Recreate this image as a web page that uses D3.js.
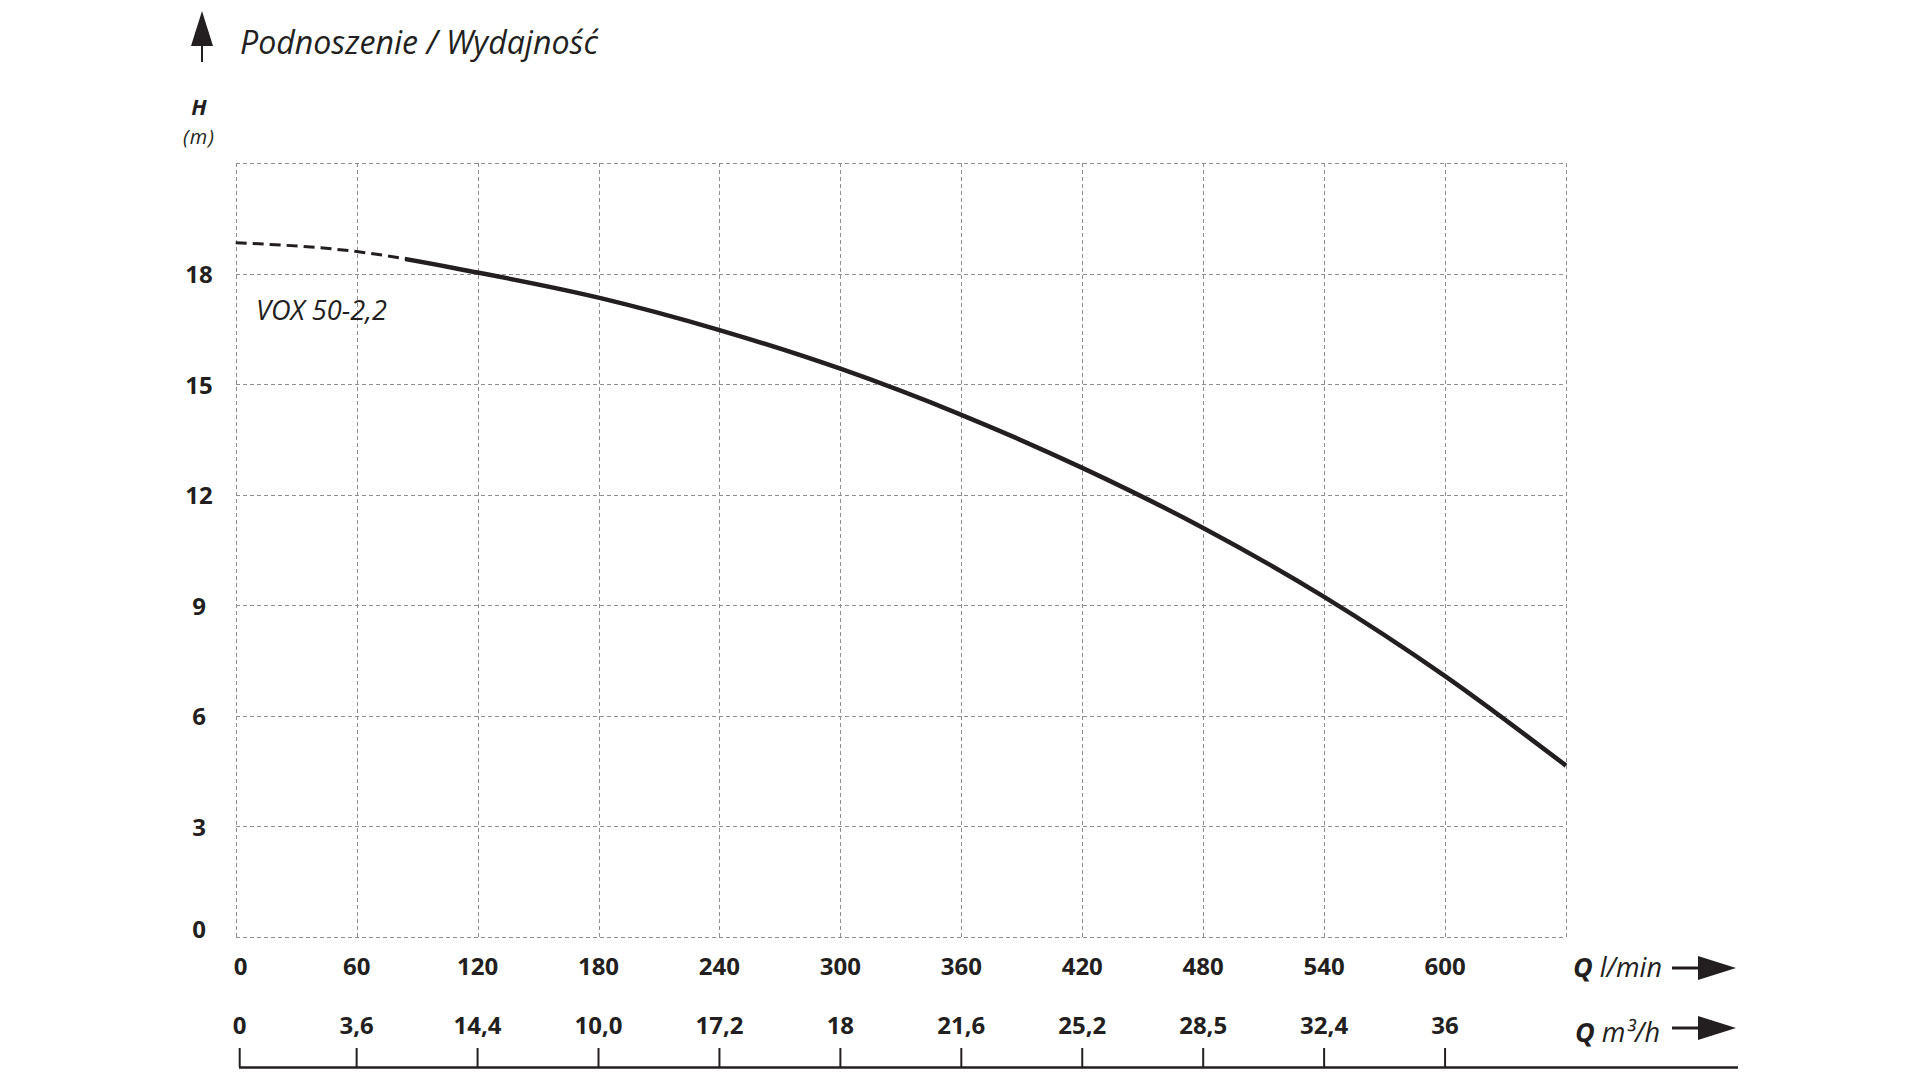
<!DOCTYPE html>
<html><head><meta charset="utf-8">
<script src="https://cdn.jsdelivr.net/npm/d3@7"></script>
<style>body{margin:0;background:#fff}svg{display:block}</style>
</head><body>
<svg id="c" width="1920" height="1080"></svg>
<script>
// ---- data ----
const titleText = "Podnoszenie / Wydajność";
const seriesName = "VOX 50-2,2";
const flowLmin = [0, 60, 120, 180, 240, 300, 360, 420, 480, 540, 600, 660];
const headM    = [18.84, 18.6, 18.03, 17.35, 16.47, 15.42, 14.17, 12.73, 11.1, 9.23, 7.08, 4.65];
const dashedUntilLmin = 84;
const xGridValues = [0, 60, 120, 180, 240, 300, 360, 420, 480, 540, 600, 660];
const xTickValues = [0, 60, 120, 180, 240, 300, 360, 420, 480, 540, 600];
const m3hTickLabels = ["0", "3,6", "14,4", "10,0", "17,2", "18", "21,6", "25,2", "28,5", "32,4", "36"];
const yGridValues = [0, 3, 6, 9, 12, 15, 18, 21];
const yTickValues = [0, 3, 6, 9, 12, 15, 18];

// ---- layout ----
const FONT = "'Open Sans', 'Noto Sans', sans-serif";
const INK = "#231f20";
const svg = d3.select("#c");
const x = d3.scaleLinear().domain([0, 660]).range([235.7, 1566]);
const y = d3.scaleLinear().domain([0, 21]).range([937, 163.1]);

function fit(sel, w) {
  const n = sel.node();
  const fs = parseFloat(sel.attr("font-size"));
  const L = n.getComputedTextLength();
  sel.attr("font-size", (fs * w / L).toFixed(2));
}

// grid
const grid = svg.append("g").attr("stroke", "#8f8f8f").attr("stroke-width", 1)
  .attr("stroke-dasharray", "4,3").attr("fill", "none").attr("shape-rendering", "crispEdges");
grid.selectAll("line.v").data(xGridValues).join("line").attr("class", "v")
  .attr("x1", d => Math.round(x(d)) + 0.5).attr("x2", d => Math.round(x(d)) + 0.5)
  .attr("y1", y(21)).attr("y2", y(0));
grid.selectAll("line.h").data(yGridValues).join("line").attr("class", "h")
  .attr("y1", d => Math.round(y(d)) + 0.5).attr("y2", d => Math.round(y(d)) + 0.5)
  .attr("x1", x(0)).attr("x2", x(660));

// y tick labels
svg.append("g").selectAll("text").data(yTickValues).join("text")
  .attr("x", 199).attr("y", d => y(d) + (d === 0 ? -9 : 0))
  .attr("text-anchor", "middle").attr("dominant-baseline", "central")
  .attr("font-family", FONT).attr("font-weight", 700).attr("font-size", 24)
  .attr("fill", INK).text(d => d);

// H (m)
svg.append("text").attr("x", 199).attr("y", 115).attr("text-anchor", "middle")
  .attr("font-family", FONT).attr("font-weight", 700).attr("font-style", "italic")
  .attr("font-size", 22).attr("fill", INK).text("H");
svg.append("text").attr("x", 199).attr("y", 144).attr("text-anchor", "middle")
  .attr("font-family", FONT).attr("font-style", "italic")
  .attr("font-size", 20).attr("letter-spacing", 1).attr("fill", INK).text("(m)");

// title + arrow
const t = svg.append("text").attr("x", 240).attr("y", 54)
  .attr("font-family", FONT).attr("font-style", "italic").attr("font-size", 31)
  .attr("fill", INK).text(titleText);
fit(t, 358);
svg.append("line").attr("x1", 202).attr("x2", 202).attr("y1", 36).attr("y2", 62)
  .attr("stroke", INK).attr("stroke-width", 2);
svg.append("path").attr("d", "M202,11L213,46L191,46Z").attr("fill", INK);

// x tick labels row 1 (l/min)
svg.append("g").selectAll("text").data(xTickValues).join("text")
  .attr("x", d => x(d) + (d === 0 ? 5 : 0)).attr("y", 975).attr("text-anchor", "middle")
  .attr("font-family", FONT).attr("font-weight", 700).attr("font-size", 24)
  .attr("fill", INK).text(d => d);

// x tick labels row 2 (m3/h)
svg.append("g").selectAll("text").data(xTickValues).join("text")
  .attr("x", d => x(d) + (d === 0 ? 4 : 0)).attr("y", 1034).attr("text-anchor", "middle")
  .attr("font-family", FONT).attr("font-weight", 700).attr("font-size", 24)
  .attr("fill", INK).text((d, i) => m3hTickLabels[i]);

// bottom axis line + ticks
svg.append("line").attr("x1", 239).attr("x2", 1738).attr("y1", 1067.5).attr("y2", 1067.5)
  .attr("stroke", INK).attr("stroke-width", 2.5);
svg.append("g").selectAll("line").data(xTickValues).join("line")
  .attr("x1", d => x(d) + (d === 0 ? 4 : 0)).attr("x2", d => x(d) + (d === 0 ? 4 : 0))
  .attr("y1", 1048).attr("y2", 1067).attr("stroke", INK).attr("stroke-width", 2);

// Q labels + arrows
function qLabel(yb, unit, w, xs) {
  const g = svg.append("text").attr("x", xs).attr("y", yb)
    .attr("font-family", FONT).attr("font-style", "italic").attr("font-size", 22).attr("fill", INK);
  g.append("tspan").attr("font-weight", 700).text("Q");
  g.append("tspan").text(" " + unit);
  fit(g, w);
}
qLabel(977, "l/min", 89, 1573);
qLabel(1042, "m³/h", 85, 1575);
[968, 1028].forEach(ay => {
  svg.append("line").attr("x1", 1672).attr("x2", 1702).attr("y1", ay).attr("y2", ay)
    .attr("stroke", INK).attr("stroke-width", 3);
  svg.append("path").attr("d", `M1698,${ay - 12}L1736,${ay}L1698,${ay + 12}Z`).attr("fill", INK);
});

// curve
const pts = flowLmin.map((q, i) => [q, headM[i]]);
const line = d3.line().x(d => x(d[0])).y(d => y(d[1])).curve(d3.curveMonotoneX);
const defs = svg.append("defs");
defs.append("clipPath").attr("id", "cd").append("rect")
  .attr("x", 0).attr("y", 0).attr("width", x(dashedUntilLmin)).attr("height", 1080);
defs.append("clipPath").attr("id", "cs").append("rect")
  .attr("x", x(dashedUntilLmin)).attr("y", 0).attr("width", 1920).attr("height", 1080);
svg.append("path").attr("d", line(pts)).attr("clip-path", "url(#cd)")
  .attr("fill", "none").attr("stroke", INK).attr("stroke-width", 3).attr("stroke-dasharray", "11,6");
svg.append("path").attr("d", line(pts)).attr("clip-path", "url(#cs)")
  .attr("fill", "none").attr("stroke", INK).attr("stroke-width", 4.5);

// series label
const v = svg.append("text").attr("x", 256).attr("y", 320)
  .attr("font-family", FONT).attr("font-style", "italic").attr("font-size", 28)
  .attr("fill", INK).text(seriesName);
fit(v, 131);
</script>
</body></html>
